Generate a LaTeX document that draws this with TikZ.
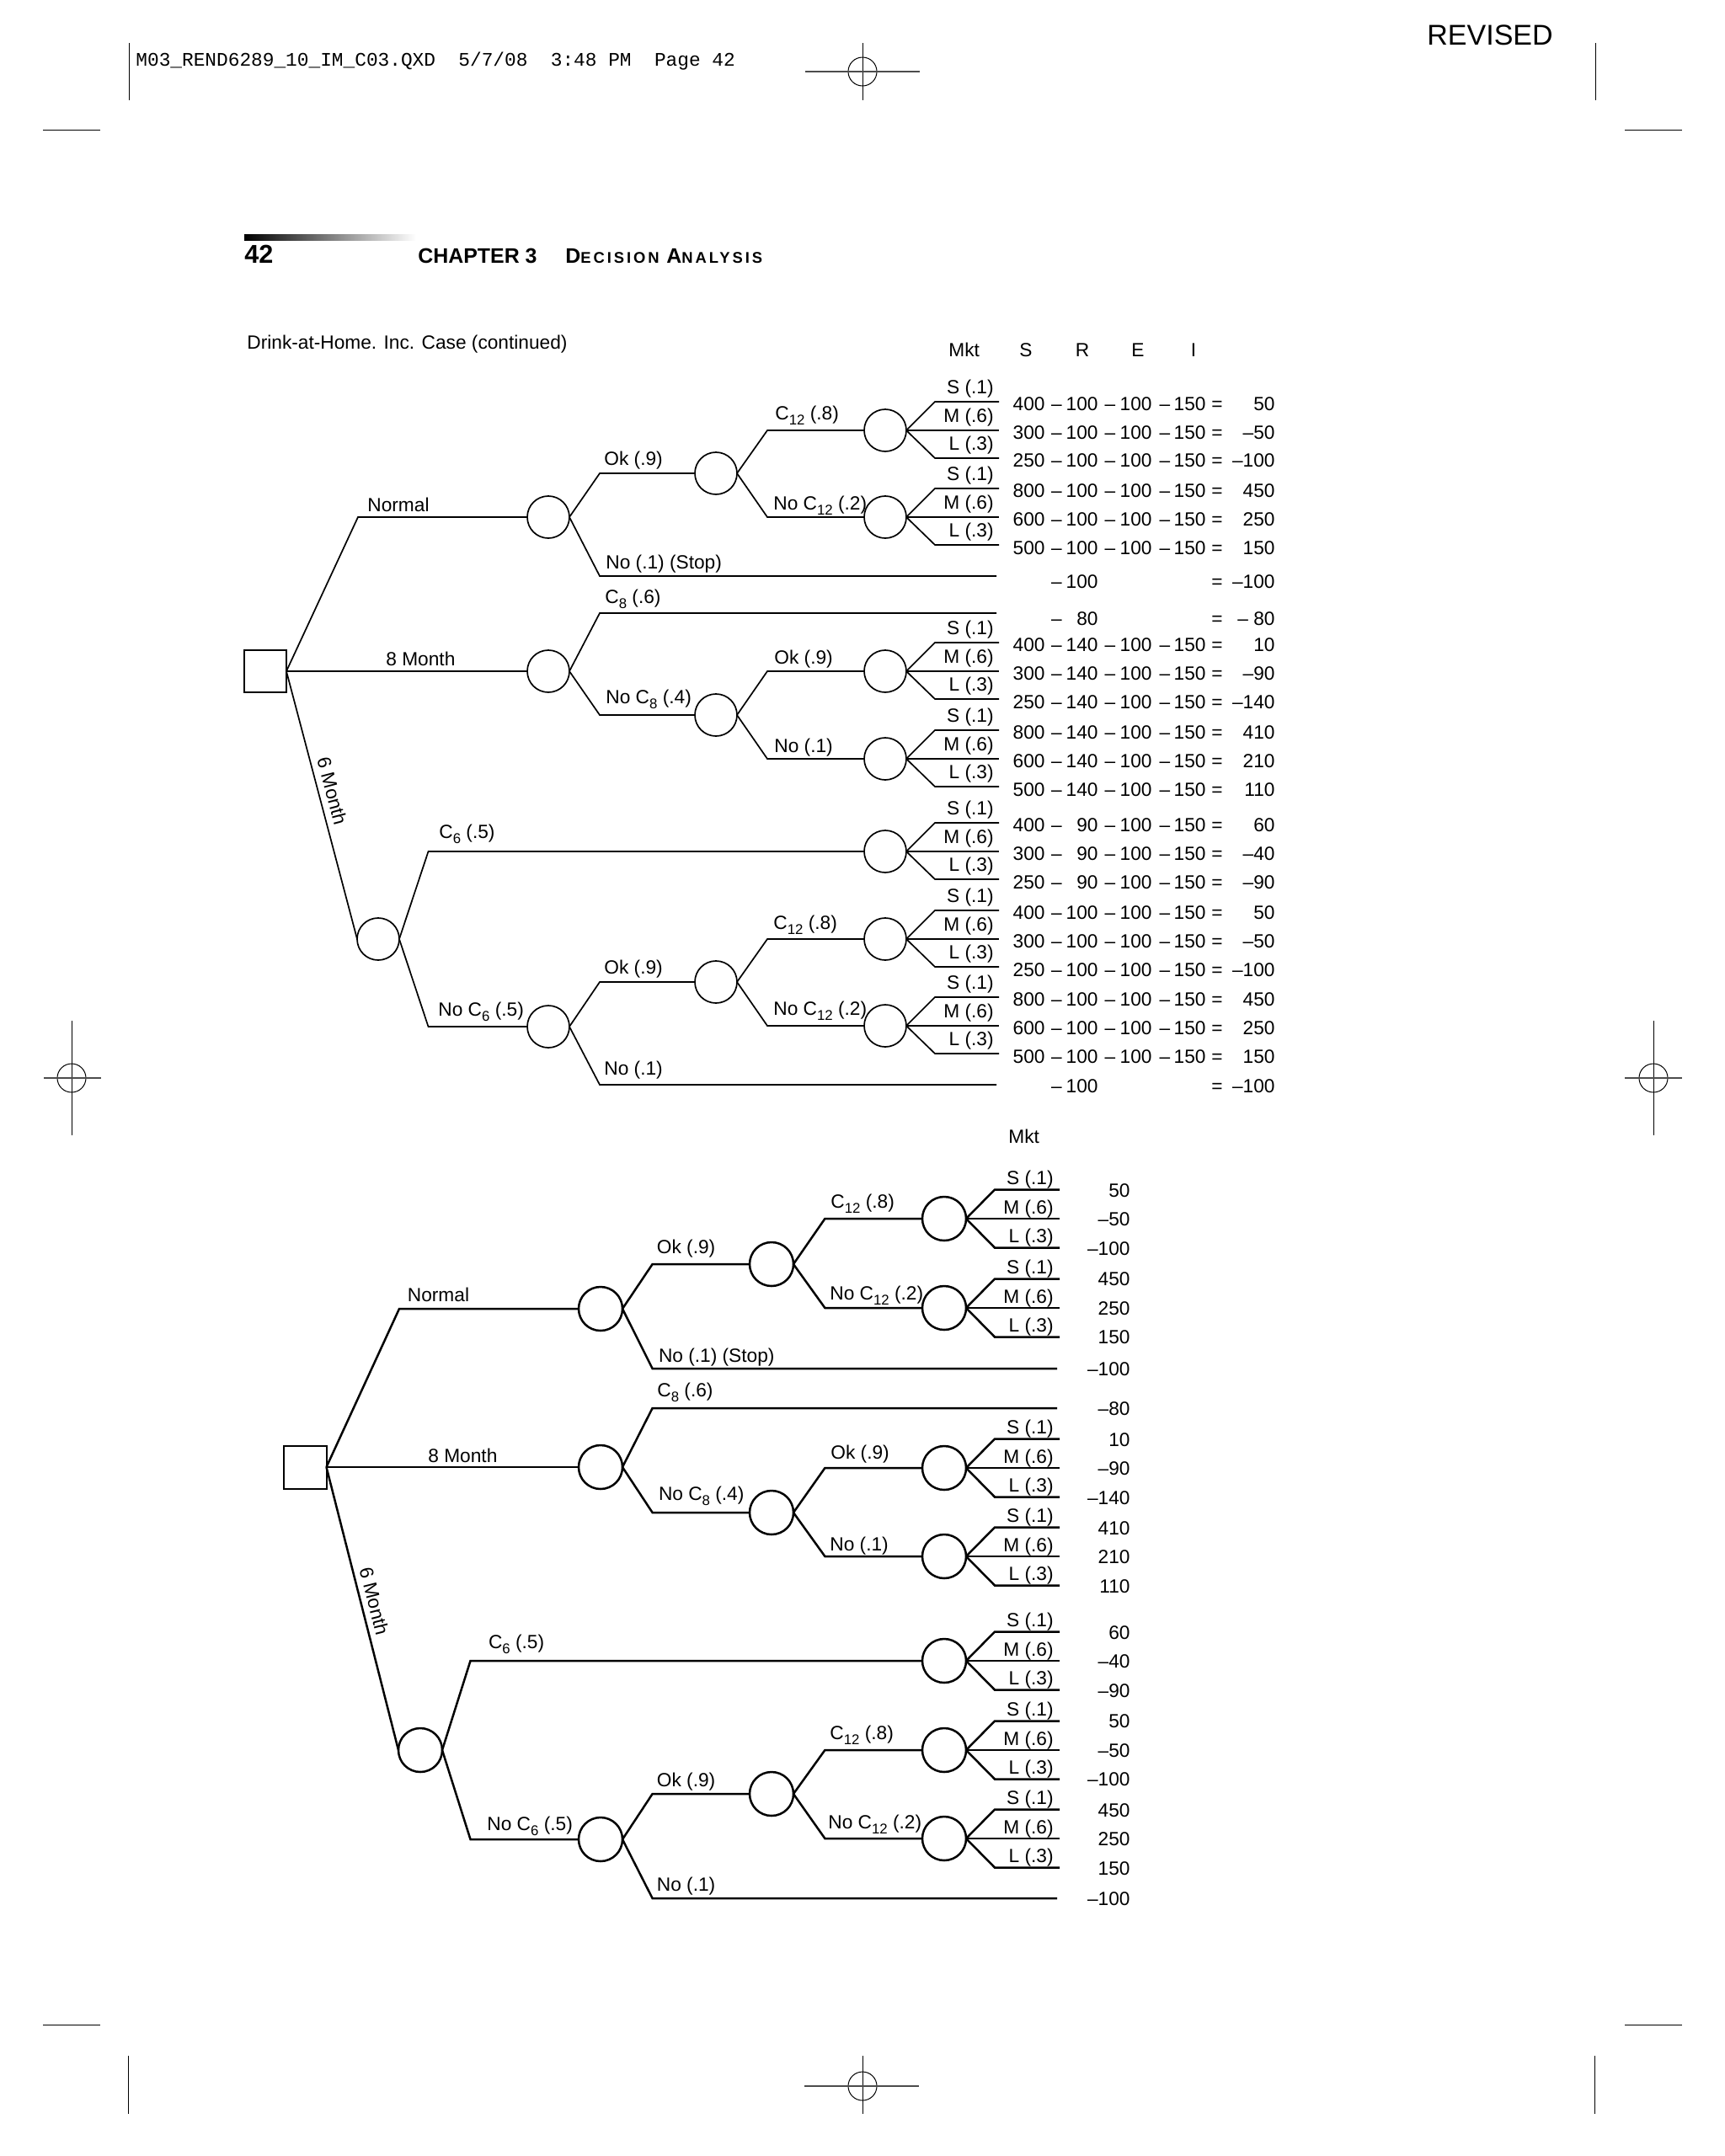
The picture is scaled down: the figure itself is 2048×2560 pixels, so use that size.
\documentclass[tikz,border=0pt]{standalone}
\usepackage{fontspec}
\setmainfont{Liberation Sans}
\newfontfamily\monof{Liberation Mono}
\usetikzlibrary{shadings}
\newcommand\tf{\fontsize{11.35}{13.5}\selectfont}
\newcommand\sbs[1]{\raisebox{-3pt}{\fontsize{8.4}{9}\selectfont #1}}
\tikzset{
 lnT/.style={line width=0.85pt},
 lnB/.style={line width=1.25pt},
 chT/.style={circle,draw,line width=0.85pt,minimum size=25pt,inner sep=0pt,outer sep=0pt},
 chB/.style={circle,draw,line width=1.25pt,minimum size=26pt,inner sep=0pt,outer sep=0pt},
 sqT/.style={rectangle,draw,line width=0.85pt,minimum size=25pt,inner sep=0pt,outer sep=0pt},
 sqB/.style={rectangle,draw,line width=1pt,minimum size=25.5pt,inner sep=0pt,outer sep=0pt},
 txt/.style={font=\tf,inner sep=0pt},
 lw/.style={txt,anchor=base west},
 le/.style={txt,anchor=base east},
 lc/.style={txt,anchor=base},
 cropln/.style={line width=0.5pt},
}
% top fan: name, cx, cy
\newcommand\tfan[3]{%
 \node[chT] (#1) at (#2,#3) {};
 \coordinate (#1u) at (#2+59,#3-34);
 \coordinate (#1ue) at (1186,#3-34);
 \coordinate (#1me) at (1186,#3);
 \coordinate (#1d) at (#2+59,#3+33);
 \coordinate (#1de) at (1186,#3+33);
 \draw[lnT] (#1.east) -- (#1u) -- (#1ue);
 \draw[lnT] (#1.east) -- (#1me);
 \draw[lnT] (#1.east) -- (#1d) -- (#1de);
 \node[le] (#1S) at (1180,#3-43.5) {S (.1)};
 \node[le] (#1M) at (1180,#3-9.5) {M (.6)};
 \node[le] (#1L) at (1180,#3+23.5) {L (.3)};
}
% bottom fan
\newcommand\bfan[3]{%
 \node[chB] (#1) at (#2,#3) {};
 \coordinate (#1u) at (#2+60,#3-34.5);
 \coordinate (#1ue) at (1258,#3-34.5);
 \coordinate (#1me) at (1258,#3);
 \coordinate (#1d) at (#2+60,#3+34.5);
 \coordinate (#1de) at (1258,#3+34.5);
 \draw[lnB] (#1.east) -- (#1u) -- (#1ue);
 \draw[lnB] (#1.east) -- (#1me);
 \draw[lnB] (#1.east) -- (#1d) -- (#1de);
 \node[le] (#1S) at (1251,#3-40.5) {S (.1)};
 \node[le] (#1M) at (1251,#3-6) {M (.6)};
 \node[le] (#1L) at (1251,#3+28.5) {L (.3)};
}
% top payoff row: y, S, R, E, I, result
\newcommand\prow[6]{%
 \node[le] (p#1a) at (1241,#1+10) {#2};
 \node[lc] (p#1b) at (1254.5,#1+10) {–};
 \node[le] (p#1c) at (1304,#1+10) {#3};
 \node[lc] (p#1d) at (1318,#1+10) {–};
 \node[le] (p#1e) at (1368,#1+10) {#4};
 \node[lc] (p#1f) at (1383,#1+10) {–};
 \node[le] (p#1g) at (1432,#1+10) {#5};
 \node[lc] (p#1h) at (1445,#1+10) {=};
 \node[le] (p#1i) at (1514,#1+10) {#6};
}
\newcommand\bval[2]{\node[le] (v#1) at (1342,#1+8) {#2};}
\begin{document}
\begin{tikzpicture}[x=0.5pt,y=-0.5pt]
\useasboundingbox (0,0) rectangle (2048,2560);
\fill[white] (0,0) rectangle (2048,2560);

% ---------- crop / registration marks ----------
\draw[cropln] (153,51) -- (153,119);
\draw[cropln] (1894,51) -- (1894,119);
\draw[cropln] (1024,51) -- (1024,119);
\draw[cropln] (1024,85) circle[radius=17];
\draw[line width=1pt,black!70] (956,85) -- (1092,85);
\draw[cropln] (51,154) -- (119,154);
\draw[cropln] (1929,154) -- (1997,154);
\draw[cropln] (85,1212) -- (85,1348);
\draw[cropln] (85,1280) circle[radius=17];
\draw[line width=1pt,black!70] (52,1280) -- (120,1280);
\draw[cropln] (1963,1212) -- (1963,1348);
\draw[cropln] (1963,1280) circle[radius=17];
\draw[line width=1pt,black!70] (1929,1280) -- (1997,1280);
\draw[cropln] (51,2404) -- (119,2404);
\draw[cropln] (1929,2404) -- (1997,2404);
\draw[cropln] (152,2441) -- (152,2510);
\draw[cropln] (1893,2441) -- (1893,2510);
\draw[cropln] (1024,2441) -- (1024,2510);
\draw[cropln] (1024,2477) circle[radius=17];
\draw[line width=1pt,black!70] (955,2477) -- (1091,2477);

% ---------- page header ----------
\node[anchor=base west,inner sep=0pt,font={\monof\fontsize{11.4}{13}\selectfont}] (slug) at (161,78) {M03\_REND6289\_10\_IM\_C03.QXD\ \ 5/7/08\ \ 3:48 PM\ \ Page 42};
\node[anchor=base west,inner sep=0pt,font={\fontsize{17}{20}\selectfont}] (revised) at (1694,53) {REVISED};
\shade[left color=black,right color=white] (290,278) rectangle (494,285);
\node[anchor=base west,inner sep=0pt,font={\bfseries\fontsize{15.3}{18}\selectfont}] (pg) at (290,312) {42};
\node[anchor=base west,inner sep=0pt,font={\bfseries\fontsize{12.45}{15}\selectfont}] (chap) at (496,312) {CHAPTER 3};
\node[anchor=base west,inner sep=0pt] (decan) at (671,312) {\bfseries\addfontfeature{LetterSpace=16}{\fontsize{12.45}{15}\selectfont D}{\fontsize{9.2}{12}\selectfont ECISION} {\fontsize{12.45}{15}\selectfont A}{\fontsize{9.2}{12}\selectfont NALYSIS}};
\node[lw] (title) at (293,414) {Drink-at-Home. Inc. Case (continued)};

% ---------- top tree ----------
\node[lw] (tmkt) at (1126,423) {Mkt};
\node[lc] (tS) at (1218,423) {S};
\node[lc] (tR) at (1285,423) {R};
\node[lc] (tE) at (1351,423) {E};
\node[lc] (tI) at (1417,423) {I};

\node[sqT] (T0) at (315,797) {};
\node[chT] (TN) at (651,614) {};
\node[chT] (T8) at (651,797) {};
\node[chT] (T6) at (449,1115) {};
\node[chT] (TNok) at (850,562) {};
\node[chT] (T8no) at (850,849) {};
\node[chT] (T6no) at (651,1219) {};
\node[chT] (T6nook) at (850,1166) {};
\tfan{TNokC}{1051}{511}
\tfan{TNokN}{1051}{614}
\tfan{T8noOk}{1051}{797}
\tfan{T8noNo}{1051}{901}
\tfan{T6c}{1051}{1011}
\tfan{T6nookC}{1051}{1115}
\tfan{T6nookN}{1051}{1218}

\coordinate (TNb) at (425,614);
\coordinate (TNokb) at (712,562);
\coordinate (TNstb) at (712,684);
\coordinate (TNste) at (1183,684);
\coordinate (TNokCb) at (911,511);
\coordinate (TNokNb) at (911,614);
\coordinate (T8cb) at (712,728);
\coordinate (T8ce) at (1183,728);
\coordinate (T8nob) at (712,849);
\coordinate (T8noOkb) at (911,797);
\coordinate (T8noNob) at (911,901);
\coordinate (T6cb) at (508.5,1011);
\coordinate (T6nob) at (508.5,1219);
\coordinate (T6nookb) at (712,1166);
\coordinate (T6nonob) at (712,1288);
\coordinate (T6nonoe) at (1183,1288);
\coordinate (T6nookCb) at (911,1115);
\coordinate (T6nookNb) at (911,1218);

\draw[lnT] (T0.east) -- (TNb) -- (TN.west);
\draw[lnT] (T0.east) -- (T8.west);
\draw[lnT] (T0.east) -- node[sloped,above,pos=0.46,font=\tf,inner sep=3.6pt] (t6lab) {6 Month} (T6.west);
\draw[lnT] (TN.east) -- (TNokb) -- (TNok.west);
\draw[lnT] (TN.east) -- (TNstb) -- (TNste);
\draw[lnT] (TNok.east) -- (TNokCb) -- (TNokC.west);
\draw[lnT] (TNok.east) -- (TNokNb) -- (TNokN.west);
\draw[lnT] (T8.east) -- (T8cb) -- (T8ce);
\draw[lnT] (T8.east) -- (T8nob) -- (T8no.west);
\draw[lnT] (T8no.east) -- (T8noOkb) -- (T8noOk.west);
\draw[lnT] (T8no.east) -- (T8noNob) -- (T8noNo.west);
\draw[lnT] (T6.east) -- (T6cb) -- (T6c.west);
\draw[lnT] (T6.east) -- (T6nob) -- (T6no.west);
\draw[lnT] (T6no.east) -- (T6nookb) -- (T6nook.west);
\draw[lnT] (T6no.east) -- (T6nonob) -- (T6nonoe);
\draw[lnT] (T6nook.east) -- (T6nookCb) -- (T6nookC.west);
\draw[lnT] (T6nook.east) -- (T6nookNb) -- (T6nookN.west);

\node[lw] (tl1) at (436,607) {Normal};
\node[lw] (tl2) at (458,790) {8 Month};
\node[lw] (tl3) at (717,552) {Ok (.9)};
\node[lw] (tl4) at (719,675) {No (.1) (Stop)};
\node[lw] (tl5) at (718,716) {C\sbs{8} (.6)};
\node[lw] (tl6) at (719,835) {No C\sbs{8} (.4)};
\node[lw] (tl7) at (920,498) {C\sbs{12} (.8)};
\node[lw] (tl8) at (918,605) {No C\sbs{12} (.2)};
\node[lw] (tl9) at (919,788) {Ok (.9)};
\node[lw] (tl10) at (919,893) {No (.1)};
\node[lw] (tl11) at (521,995) {C\sbs{6} (.5)};
\node[lw] (tl12) at (520,1206) {No C\sbs{6} (.5)};
\node[lw] (tl13) at (717,1156) {Ok (.9)};
\node[lw] (tl14) at (717,1276) {No (.1)};
\node[lw] (tl15) at (918,1103) {C\sbs{12} (.8)};
\node[lw] (tl16) at (918,1205) {No C\sbs{12} (.2)};

% payoffs top
\prow{477}{400}{100}{100}{150}{50}
\prow{511}{300}{100}{100}{150}{–50}
\prow{544}{250}{100}{100}{150}{–100}
\prow{580}{800}{100}{100}{150}{450}
\prow{614}{600}{100}{100}{150}{250}
\prow{648}{500}{100}{100}{150}{150}
\node[lc] (q1a) at (1254.5,698) {–};
\node[le] (q1b) at (1304,698) {100};
\node[lc] (q1c) at (1445,698) {=};
\node[le] (q1d) at (1514,698) {–100};
\node[lc] (q2a) at (1254.5,742) {–};
\node[le] (q2b) at (1304,742) {80};
\node[lc] (q2c) at (1445,742) {=};
\node[le] (q2d) at (1514,742) {– 80};
\prow{763}{400}{140}{100}{150}{10}
\prow{797}{300}{140}{100}{150}{–90}
\prow{831}{250}{140}{100}{150}{–140}
\prow{867}{800}{140}{100}{150}{410}
\prow{901}{600}{140}{100}{150}{210}
\prow{935}{500}{140}{100}{150}{110}
\prow{977}{400}{90}{100}{150}{60}
\prow{1011}{300}{90}{100}{150}{–40}
\prow{1045}{250}{90}{100}{150}{–90}
\prow{1081}{400}{100}{100}{150}{50}
\prow{1115}{300}{100}{100}{150}{–50}
\prow{1149}{250}{100}{100}{150}{–100}
\prow{1184}{800}{100}{100}{150}{450}
\prow{1218}{600}{100}{100}{150}{250}
\prow{1252}{500}{100}{100}{150}{150}
\node[lc] (q3a) at (1254.5,1297) {–};
\node[le] (q3b) at (1304,1297) {100};
\node[lc] (q3c) at (1445,1297) {=};
\node[le] (q3d) at (1514,1297) {–100};

% ---------- bottom tree ----------
\node[lw] (bmkt) at (1197,1357) {Mkt};
\node[sqB] (B0) at (362,1742) {};
\node[chB] (BN) at (713,1554) {};
\node[chB] (B8) at (713,1742) {};
\node[chB] (B6) at (499,2078) {};
\node[chB] (BNok) at (916,1501) {};
\node[chB] (B8no) at (916,1796) {};
\node[chB] (B6no) at (713,2184) {};
\node[chB] (B6nook) at (916,2130) {};
\bfan{BNokC}{1121}{1447}
\bfan{BNokN}{1121}{1553}
\bfan{B8noOk}{1121}{1743}
\bfan{B8noNo}{1121}{1848}
\bfan{B6c}{1121}{1972}
\bfan{B6nookC}{1121}{2078}
\bfan{B6nookN}{1121}{2183}

\coordinate (BNb) at (474,1554);
\coordinate (BNokb) at (774.6,1501);
\coordinate (BNstb) at (774.6,1625);
\coordinate (BNste) at (1255,1625);
\coordinate (BNokCb) at (979.4,1447);
\coordinate (BNokNb) at (979.4,1553);
\coordinate (B8cb) at (774.6,1672);
\coordinate (B8ce) at (1255,1672);
\coordinate (B8nob) at (774.6,1796);
\coordinate (B8noOkb) at (979.4,1743);
\coordinate (B8noNob) at (979.4,1848);
\coordinate (B6cb) at (558.5,1972);
\coordinate (B6nob) at (558.5,2184);
\coordinate (B6nookb) at (774.6,2130);
\coordinate (B6nonob) at (774.6,2254);
\coordinate (B6nonoe) at (1255,2254);
\coordinate (B6nookCb) at (979.4,2078);
\coordinate (B6nookNb) at (979.4,2183);

\draw[lnB] (B0.east) -- (BNb) -- (BN.west);
\draw[lnB] (B0.east) -- (B8.west);
\draw[lnB] (B0.east) -- node[sloped,above,pos=0.485,font=\tf,inner sep=3.2pt] (b6lab) {6 Month} (B6.west);
\draw[lnB] (BN.east) -- (BNokb) -- (BNok.west);
\draw[lnB] (BN.east) -- (BNstb) -- (BNste);
\draw[lnB] (BNok.east) -- (BNokCb) -- (BNokC.west);
\draw[lnB] (BNok.east) -- (BNokNb) -- (BNokN.west);
\draw[lnB] (B8.east) -- (B8cb) -- (B8ce);
\draw[lnB] (B8.east) -- (B8nob) -- (B8no.west);
\draw[lnB] (B8no.east) -- (B8noOkb) -- (B8noOk.west);
\draw[lnB] (B8no.east) -- (B8noNob) -- (B8noNo.west);
\draw[lnB] (B6.east) -- (B6cb) -- (B6c.west);
\draw[lnB] (B6.east) -- (B6nob) -- (B6no.west);
\draw[lnB] (B6no.east) -- (B6nookb) -- (B6nook.west);
\draw[lnB] (B6no.east) -- (B6nonob) -- (B6nonoe);
\draw[lnB] (B6nook.east) -- (B6nookCb) -- (B6nookC.west);
\draw[lnB] (B6nook.east) -- (B6nookNb) -- (B6nookN.west);

\node[lw] (bl1) at (483.5,1545) {Normal};
\node[lw] (bl2) at (508,1736) {8 Month};
\node[lw] (bl3) at (779.5,1488) {Ok (.9)};
\node[lw] (bl4) at (781.6,1617) {No (.1) (Stop)};
\node[lw] (bl5) at (780,1658) {C\sbs{8} (.6)};
\node[lw] (bl6) at (781.6,1781) {No C\sbs{8} (.4)};
\node[lw] (bl7) at (986,1434) {C\sbs{12} (.8)};
\node[lw] (bl8) at (985,1543) {No C\sbs{12} (.2)};
\node[lw] (bl9) at (986,1732) {Ok (.9)};
\node[lw] (bl10) at (985,1841) {No (.1)};
\node[lw] (bl11) at (579.6,1957) {C\sbs{6} (.5)};
\node[lw] (bl12) at (578,2173) {No C\sbs{6} (.5)};
\node[lw] (bl13) at (779.5,2121) {Ok (.9)};
\node[lw] (bl14) at (779.5,2245) {No (.1)};
\node[lw] (bl15) at (985,2065) {C\sbs{12} (.8)};
\node[lw] (bl16) at (983,2171) {No C\sbs{12} (.2)};

\bval{1413}{50}
\bval{1447}{–50}
\bval{1482}{–100}
\bval{1518}{450}
\bval{1553}{250}
\bval{1587}{150}
\bval{1625}{–100}
\bval{1672}{–80}
\bval{1709}{10}
\bval{1743}{–90}
\bval{1778}{–140}
\bval{1814}{410}
\bval{1848}{210}
\bval{1883}{110}
\bval{1938}{60}
\bval{1972}{–40}
\bval{2007}{–90}
\bval{2043}{50}
\bval{2078}{–50}
\bval{2112}{–100}
\bval{2149}{450}
\bval{2183}{250}
\bval{2218}{150}
\bval{2254}{–100}
\end{tikzpicture}
\end{document}
